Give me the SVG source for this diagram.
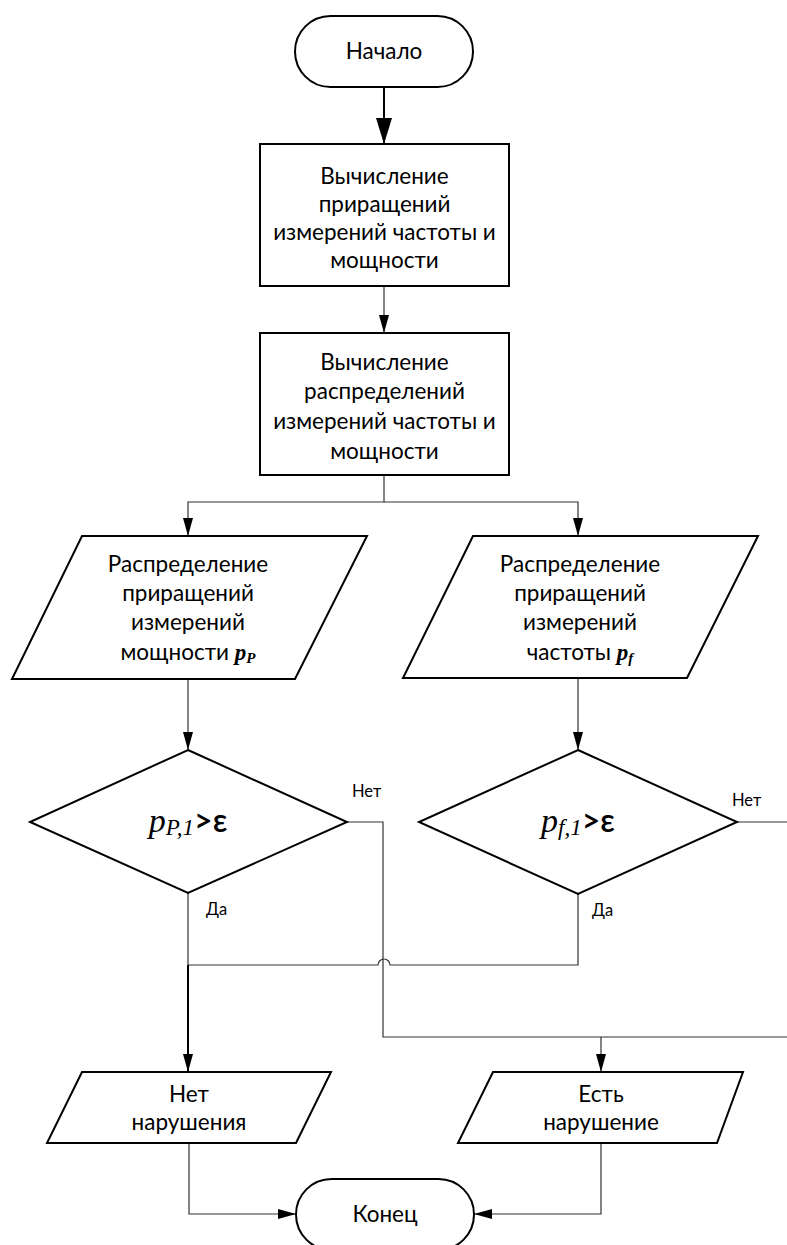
<svg xmlns="http://www.w3.org/2000/svg" width="787" height="1245" viewBox="0 0 787 1245">
<style>
.shape{fill:#fff;stroke:#000;stroke-width:2}
.t{font-family:Lato,"Liberation Sans",sans-serif;font-size:22.5px;fill:#000;text-anchor:middle}
.lbl{font-family:Lato,"Liberation Sans",sans-serif;font-size:16.5px;fill:#000}
.c{fill:none;stroke:#333;stroke-width:1.2}
.ck{fill:none;stroke:#000;stroke-width:2}
.m{font-family:"Liberation Serif",serif;font-style:italic}
.mb{font-family:"Liberation Serif",serif;font-style:italic;font-weight:bold}
.cond{font-family:Lato,"Liberation Sans",sans-serif;font-size:32px;font-weight:600;fill:#000;text-anchor:middle}
</style>
<defs>
<marker id="a" markerUnits="userSpaceOnUse" markerWidth="18" markerHeight="10" refX="18" refY="5" orient="auto"><path d="M0,0 L18,5 L0,10 z" fill="#000"/></marker>
<marker id="ab" markerUnits="userSpaceOnUse" markerWidth="26" markerHeight="16" refX="26" refY="8" orient="auto"><path d="M0,0 L26,8 L0,16 z" fill="#000"/></marker>
</defs>
<rect width="787" height="1245" fill="#fff"/>
<g id="connectors">
<path class="ck" d="M384,87 V144" marker-end="url(#ab)"/>
<path class="c" d="M384,286 V333" marker-end="url(#a)"/>
<path class="c" d="M384,475 V502 H188 V536" marker-end="url(#a)"/>
<path class="c" d="M384,502 H578 V536" marker-end="url(#a)"/>
<path class="c" d="M188,679 V750" marker-end="url(#a)"/>
<path class="c" d="M578,678 V750" marker-end="url(#a)"/>
<path class="c" d="M347,822 H383 V1037 H787"/>
<path class="c" d="M737,822 H787"/>
<path class="c" d="M188,893 V965"/>
<path class="c" d="M578,894 V965 H390 A6,6 0 0 0 378,965 H188"/>
<path class="ck" d="M188,965 V1072" marker-end="url(#a)"/>
<path class="c" d="M601,1037 V1072" marker-end="url(#a)"/>
<path class="c" d="M189,1143 V1214 H296" marker-end="url(#a)"/>
<path class="c" d="M601,1143 V1214 H474" marker-end="url(#a)"/>
<text class="lbl" x="352" y="797">Нет</text>
<text class="lbl" x="206" y="915">Да</text>
<text class="lbl" x="732" y="806">Нет</text>
<text class="lbl" x="592" y="916">Да</text>
</g>
<g id="start">
<rect class="shape" x="295" y="16" width="178" height="71" rx="35.5"/>
<text class="t" x="384" y="59">Начало</text>
</g>
<g id="calc1">
<rect class="shape" x="260" y="144" width="249" height="142"/>
<text class="t" x="384.5" y="184">Вычисление</text>
<text class="t" x="384.5" y="212">приращений</text>
<text class="t" x="384.5" y="240">измерений частоты и</text>
<text class="t" x="384.5" y="268">мощности</text>
</g>
<g id="calc2">
<rect class="shape" x="260" y="333" width="249" height="142"/>
<text class="t" x="384.5" y="370">Вычисление</text>
<text class="t" x="384.5" y="399">распределений</text>
<text class="t" x="384.5" y="429">измерений частоты и</text>
<text class="t" x="384.5" y="459">мощности</text>
</g>
<g id="distP">
<polygon class="shape" points="82,536 367,536 295,679 12,679"/>
<text class="t" x="188" y="572">Распределение</text>
<text class="t" x="188" y="601">приращений</text>
<text class="t" x="188" y="630">измерений</text>
<text class="t" x="188" y="660">мощности <tspan class="mb" style="font-size:23px">p</tspan><tspan class="mb" style="font-size:15px" dy="3">P</tspan></text>
</g>
<g id="distF">
<polygon class="shape" points="473,536 758,536 687,678 403,678"/>
<text class="t" x="580" y="572">Распределение</text>
<text class="t" x="580" y="601">приращений</text>
<text class="t" x="580" y="630">измерений</text>
<text class="t" x="580" y="660">частоты <tspan class="mb" style="font-size:23px">p</tspan><tspan class="mb" style="font-size:15px" dy="3">f</tspan></text>
</g>
<g id="condP">
<polygon class="shape" points="188,750 347,822 188,893 30,822"/>
<text class="cond" x="188" y="832"><tspan class="m" style="font-size:34px;font-weight:normal">p</tspan><tspan class="m" style="font-size:23px;font-weight:normal" dy="3">P,1</tspan><tspan dy="-3">&gt;ε</tspan></text>
</g>
<g id="condF">
<polygon class="shape" points="578,750 737,822 578,894 419,822"/>
<text class="cond" x="578" y="832"><tspan class="m" style="font-size:34px;font-weight:normal">p</tspan><tspan class="m" style="font-size:23px;font-weight:normal" dy="3">f,1</tspan><tspan dy="-3">&gt;ε</tspan></text>
</g>
<g id="noViol">
<polygon class="shape" points="82,1072 331,1072 296,1143 47,1143"/>
<text class="t" x="189" y="1102">Нет</text>
<text class="t" x="189" y="1130">нарушения</text>
</g>
<g id="viol">
<polygon class="shape" points="493,1072 743,1072 717,1143 458,1143"/>
<text class="t" x="601" y="1102">Есть</text>
<text class="t" x="601" y="1130">нарушение</text>
</g>
<g id="end">
<rect class="shape" x="296" y="1179" width="178" height="71" rx="35.5"/>
<text class="t" x="385" y="1222">Конец</text>
</g>
</svg>
